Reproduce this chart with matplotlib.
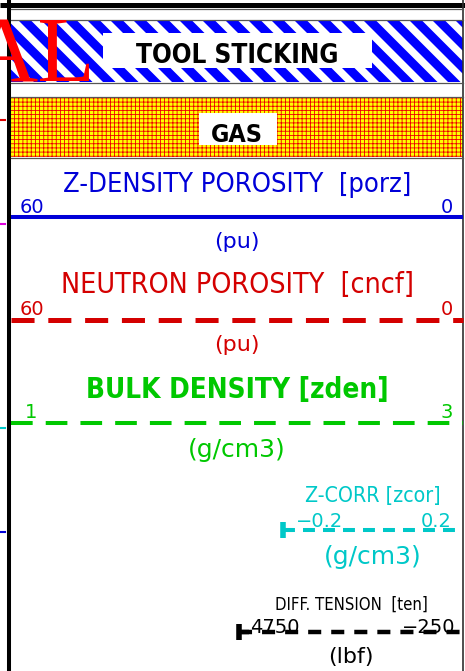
import matplotlib
matplotlib.use("Agg")
import matplotlib.pyplot as plt
from matplotlib.patches import Rectangle, Polygon

plt.rcParams['lines.scale_dashes'] = False
plt.rcParams['hatch.linewidth'] = 0.6

# header data
flag_labels = ["TOOL STICKING", "GAS"]
curve_titles = ["Z-DENSITY POROSITY", "NEUTRON POROSITY", "BULK DENSITY", "Z-CORR", "DIFF. TENSION"]
curve_mnems = ["porz", "cncf", "zden", "zcor", "ten"]
curve_units = ["pu", "pu", "g/cm3", "g/cm3", "lbf"]
scale_left = [60, 60, 1, -0.2, 4750]
scale_right = [0, 0, 3, 0.2, -250]

# styles
colors = ['#0000d8', '#d40000', '#00c800', '#00c8c8', '#000000']
line_w = [2.9, 3.6, 2.9, 2.9, 3.2]
dashes = [None, (16.6, 9.9), (15.6, 9.4), (8.6, 5.8), (9.4, 7.2)]
title_sep = ["  ", "  ", " ", " ", "  "]
title_size = [19.5, 20.5, 20, 15.3, 12]
title_weight = ["normal", "normal", "bold", "normal", "normal"]
unit_size = [16, 16, 18, 18, 16]
cond = dict(family='DejaVu Sans', fontstretch='condensed')

# layout (pixels, y down)
W, H = 465, 671
x_left, x_right = 11, 463
line_y = [216.5, 319.5, 423, 530, 632]
line_x0 = [11, 11, 11, 283, 239]
title_base = [192, 293, 398, 502, 610]
scale_base = [213, 315, 418, 527, 633]
scale_lx = [20, 20, 25, 296, 250]
scale_rx = [453, 453, 453, 452, 455]
unit_y = [242.5, 345, 450, 557, 657]

fig = plt.figure(figsize=(W / 100, H / 100), dpi=100)
ax = fig.add_axes([0, 0, 1, 1])
ax.set_xlim(0, W)
ax.set_ylim(H, 0)
ax.axis('off')

# frame
ax.plot([0, W], [4.5, 4.5], color='black', lw=3.6, solid_capstyle='butt')
ax.plot([9, 9], [0, H], color='black', lw=2.9, solid_capstyle='butt')
ax.plot([x_right, x_right], [0, H], color='#303030', lw=1.2)
for yb in [8.5, 20, 82.5, 97, 157.5]:
    ax.plot([x_left, x_right], [yb, yb], color='#555555', lw=0.9)

# tool sticking flag: blue diagonal stripes
t_top, t_bot = 20.5, 82
clip = Rectangle((x_left, t_top), x_right - x_left, t_bot - t_top, facecolor='white', edgecolor='none')
ax.add_patch(clip)
period, band = 23, 12.5
hgt = t_bot - t_top
x = x_left - hgt - period
while x < x_right + period:
    p = Polygon([(x, t_top), (x + band, t_top), (x + band + hgt, t_bot), (x + hgt, t_bot)],
                closed=True, facecolor='#0000ff', edgecolor='none')
    ax.add_patch(p)
    p.set_clip_path(clip)
    x += period
ax.add_patch(Rectangle((103, 33), 269, 35, facecolor='white', edgecolor='none'))
ax.text(237, 63, flag_labels[0], ha='center', va='baseline', fontsize=18.7,
        fontweight='bold', color='black', **cond)

# gas flag
ax.add_patch(Rectangle((x_left, 97.5), x_right - x_left, 59.5, facecolor='#ffff00',
                       edgecolor='#ee0000', hatch='++++', linewidth=0))
ax.add_patch(Rectangle((199, 113), 78, 32, facecolor='white', edgecolor='none'))
ax.text(237, 142, flag_labels[1], ha='center', va='baseline', fontsize=18,
        fontweight='bold', color='black', **cond)

# neighbouring track remnants
ax.text(95, 82, "AL", ha='right', va='baseline', fontsize=68, color='#ff0000',
        family=['Liberation Serif', 'DejaVu Serif'], zorder=5)
for yt, ct in zip([120, 223.5, 428, 532], ['#dd0000', '#dd00dd', '#00c8c8', '#0000d8']):
    ax.plot([0, 5], [yt, yt], color=ct, lw=1.5)


def fmt(v):
    return f"{v:g}".replace("-", "\u2212")


# curve scales
for i in range(len(curve_titles)):
    c = colors[i]
    x0 = line_x0[i]
    xc = (x0 + x_right) / 2
    y = line_y[i]
    if dashes[i] is None:
        ax.plot([x0, x_right], [y, y], color=c, lw=line_w[i], solid_capstyle='butt')
    else:
        ax.plot([x0, x_right], [y, y], color=c, lw=line_w[i], dashes=dashes[i],
                dash_capstyle='butt')
    if i >= 3:
        ax.plot([x0, x0], [y - 8, y + 8], color=c, lw=4, solid_capstyle='butt')
        ax.plot([x0, x0 + 10], [y, y], color=c, lw=line_w[i], solid_capstyle='butt')
    ax.text(xc, title_base[i], f"{curve_titles[i]}{title_sep[i]}[{curve_mnems[i]}]",
            ha='center', va='baseline', fontsize=title_size[i], fontweight=title_weight[i],
            color=c, **cond)
    ax.text(scale_lx[i], scale_base[i], fmt(scale_left[i]), ha='left', va='baseline',
            fontsize=14, family='DejaVu Sans', color=c)
    ax.text(scale_rx[i], scale_base[i], fmt(scale_right[i]), ha='right', va='baseline',
            fontsize=14, family='DejaVu Sans', color=c)
    ax.text(xc, unit_y[i], f"({curve_units[i]})", ha='center', va='center',
            fontsize=unit_size[i], family='DejaVu Sans', color=c)

fig.savefig("out.png", dpi=100)
